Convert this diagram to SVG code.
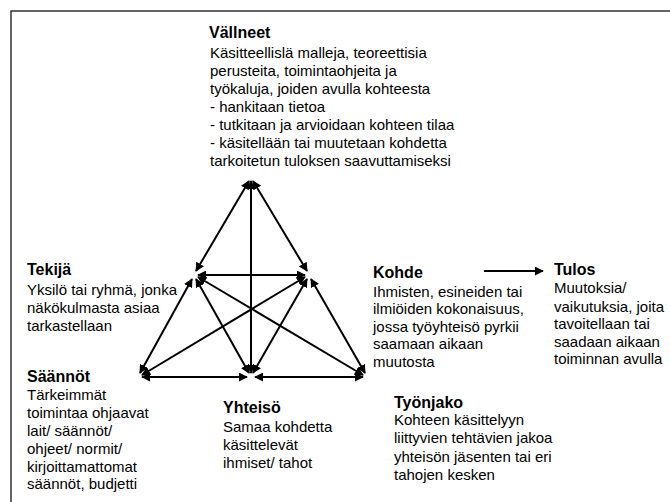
<svg xmlns="http://www.w3.org/2000/svg" width="670" height="502" viewBox="0 0 670 502">
<defs>
<marker id="ah" viewBox="0 0 10 10" refX="9" refY="5" markerWidth="4.5" markerHeight="4.5" orient="auto-start-reverse" markerUnits="strokeWidth">
<path d="M0,0 L10,5 L0,10 z" fill="#000"/>
</marker>
<style>
text{font-family:"Liberation Sans",Arial,sans-serif;fill:#000}
.h{font-size:16px;font-weight:bold}
.b{font-size:15px}
.c line{stroke:#000;stroke-width:2;marker-start:url(#ah);marker-end:url(#ah)}
.frame{stroke:#333;stroke-width:1.5;fill:none}
</style>
</defs>
<rect width="670" height="502" fill="#fff"/>
<path class="frame" d="M670,11 L11,11 L11,502"/>

<g id="valineet">
<text class="h" x="209" y="38">Vällneet</text>
<text class="b" x="210" y="58">Käsitteellislä malleja, teoreettisia</text>
<text class="b" x="210" y="76">perusteita, toimintaohjeita ja</text>
<text class="b" x="210" y="94">työkaluja, joiden avulla  kohteesta</text>
<text class="b" x="210" y="112">- hankitaan tietoa</text>
<text class="b" x="210" y="130">- tutkitaan ja arvioidaan kohteen tilaa</text>
<text class="b" x="210" y="148">- käsitellään tai muutetaan kohdetta</text>
<text class="b" x="210" y="166">tarkoitetun tuloksen saavuttamiseksi</text>
</g>

<g id="tekija">
<text class="h" x="27" y="275">Tekijä</text>
<text class="b" x="27" y="295">Yksilö tai ryhmä, jonka</text>
<text class="b" x="27" y="313">näkökulmasta asiaa</text>
<text class="b" x="27" y="331">tarkastellaan</text>
</g>

<g id="kohde">
<text class="h" x="373" y="278">Kohde</text>
<text class="b" x="373" y="297">Ihmisten, esineiden tai</text>
<text class="b" x="373" y="314">ilmiöiden kokonaisuus,</text>
<text class="b" x="373" y="332">jossa työyhteisö pyrkii</text>
<text class="b" x="373" y="349">saamaan aikaan</text>
<text class="b" x="373" y="367">muutosta</text>
</g>

<g id="tulos">
<text class="h" x="554" y="275">Tulos</text>
<text class="b" x="554" y="293">Muutoksia/</text>
<text class="b" x="554" y="312">vaikutuksia, joita</text>
<text class="b" x="554" y="329">tavoitellaan tai</text>
<text class="b" x="554" y="347">saadaan aikaan</text>
<text class="b" x="554" y="364">toiminnan avulla</text>
</g>

<g id="saannot">
<text class="h" x="27" y="382">Säännöt</text>
<text class="b" x="27" y="400">Tärkeimmät</text>
<text class="b" x="27" y="418">toimintaa ohjaavat</text>
<text class="b" x="27" y="436">lait/ säännöt/</text>
<text class="b" x="27" y="454">ohjeet/ normit/</text>
<text class="b" x="27" y="472">kirjoittamattomat</text>
<text class="b" x="27" y="489">säännöt, budjetti</text>
</g>

<g id="yhteiso">
<text class="h" x="223" y="413">Yhteisö</text>
<text class="b" x="223" y="432">Samaa kohdetta</text>
<text class="b" x="223" y="450">käsittelevät</text>
<text class="b" x="223" y="468">ihmiset/ tahot</text>
</g>

<g id="tyonjako">
<text class="h" x="394" y="408">Työnjako</text>
<text class="b" x="394" y="425">Kohteen käsittelyyn</text>
<text class="b" x="394" y="443">liittyvien tehtävien jakoa</text>
<text class="b" x="394" y="462">yhteisön jäsenten tai eri</text>
<text class="b" x="394" y="480">tahojen kesken</text>
</g>

<g id="connectors" class="c">
<line x1="249" y1="181" x2="196" y2="271"/>
<line x1="253" y1="181" x2="307" y2="271"/>
<line x1="251" y1="373" x2="251" y2="181"/>
<line x1="198" y1="275" x2="305" y2="275"/>
<line x1="140" y1="373" x2="192" y2="279"/>
<line x1="142" y1="377" x2="247" y2="377"/>
<line x1="255" y1="377" x2="363" y2="377"/>
<line x1="142" y1="375" x2="305" y2="277"/>
<line x1="363" y1="375" x2="198" y2="277"/>
<line x1="249" y1="373" x2="196" y2="279"/>
<line x1="253" y1="373" x2="307" y2="279"/>
<line x1="365" y1="373" x2="311" y2="279"/>
<line x1="484" y1="271" x2="543" y2="271" style="marker-start:none"/>
</g>
</svg>
